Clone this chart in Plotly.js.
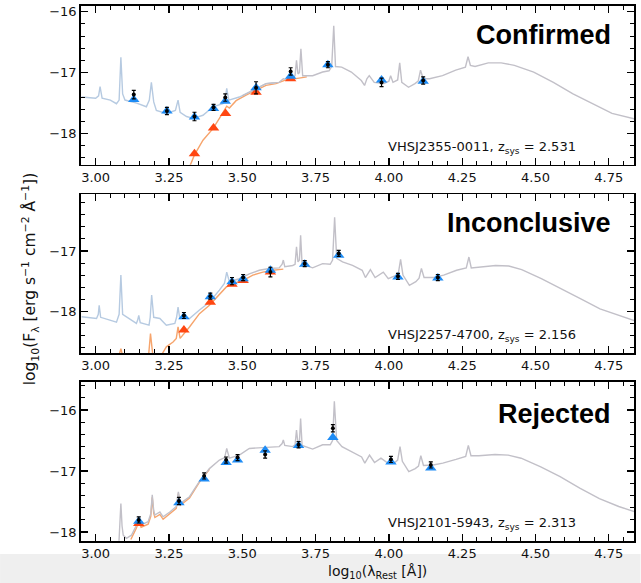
<!DOCTYPE html>
<html>
<head>
<meta charset="utf-8">
<script src="https://cdn.plot.ly/plotly-3.0.1.min.js"></script>
<style>html,body{margin:0;padding:0;background:#fff;}#chart{width:641px;height:583px;}</style>
</head>
<body>
<div id="chart"></div>
<script>
// ---------- Panel 1: Confirmed ----------
const p1_blue_x = [2.952, 3.000, 3.010, 3.015, 3.022, 3.050, 3.071, 3.080, 3.086, 3.092, 3.100, 3.140, 3.173, 3.183, 3.190, 3.198, 3.207, 3.241, 3.272, 3.281, 3.288, 3.310, 3.332, 3.366, 3.400, 3.434, 3.441, 3.447, 3.454, 3.490, 3.536, 3.581, 3.610];
const p1_blue_y = [-17.40, -17.42, -17.38, -17.23, -17.42, -17.45, -17.51, -17.45, -16.75, -17.35, -17.45, -17.50, -17.56, -17.45, -17.16, -17.48, -17.62, -17.67, -17.62, -17.45, -17.65, -17.72, -17.75, -17.70, -17.56, -17.51, -17.45, -17.26, -17.45, -17.40, -17.29, -17.18, -17.17];
const p1_gray_x = [3.500, 3.536, 3.560, 3.581, 3.600, 3.626, 3.640, 3.649, 3.672, 3.680, 3.685, 3.690, 3.695, 3.700, 3.706, 3.740, 3.774, 3.796, 3.805, 3.812, 3.818, 3.839, 3.872, 3.906, 3.917, 3.925, 3.933, 3.950, 3.983, 4.000, 4.006, 4.014, 4.030, 4.037, 4.044, 4.067, 4.089, 4.100, 4.108, 4.117, 4.139, 4.183, 4.228, 4.261, 4.270, 4.278, 4.294, 4.339, 4.383, 4.428, 4.494, 4.561, 4.628, 4.694, 4.761, 4.840];
const p1_gray_y = [-17.38, -17.29, -17.22, -17.18, -17.17, -17.16, -17.10, -17.11, -17.08, -17.05, -16.80, -17.02, -17.00, -16.61, -17.05, -17.05, -16.99, -16.97, -16.90, -16.23, -16.90, -16.91, -16.99, -17.13, -17.21, -17.10, -17.05, -17.16, -17.18, -17.14, -17.05, -17.16, -17.12, -16.84, -17.16, -17.24, -17.18, -17.14, -16.96, -17.10, -17.10, -17.05, -16.96, -16.91, -16.74, -16.88, -16.90, -16.84, -16.84, -16.88, -16.99, -17.16, -17.35, -17.51, -17.67, -17.76];
const p1_orange_x = [3.320, 3.337, 3.366, 3.400, 3.422, 3.440, 3.447, 3.456, 3.479, 3.513, 3.547, 3.581, 3.615, 3.649, 3.694, 3.720];
const p1_orange_y = [-18.55, -18.35, -18.11, -17.92, -17.75, -17.62, -17.55, -17.58, -17.46, -17.37, -17.29, -17.21, -17.18, -17.12, -17.09, -17.07];
const p1_phot_x = [3.130, 3.243, 3.337, 3.402, 3.442, 3.547, 3.665, 3.792, 3.975, 4.117];
const p1_bluepts = [-17.44, -17.63, -17.73, -17.59, -17.47, -17.25, -17.06, -16.87, -17.12, -17.14];
const p1_red_x = [3.337, 3.402, 3.443, 3.547, 3.665];
const p1_redpts = [-18.33, -17.91, -17.67, -17.32, -17.10];
const p1_obs = [-17.36, -17.63, -17.72, -17.57, -17.41, -17.25, -16.98, -16.87, -17.16, -17.13];
const p1_err = [0.07, 0.06, 0.07, 0.05, 0.06, 0.10, 0.06, 0.05, 0.07, 0.06];

// ---------- Panel 2: Inconclusive ----------
const p2_blue_x = [2.952, 3.003, 3.009, 3.012, 3.017, 3.071, 3.080, 3.086, 3.092, 3.139, 3.143, 3.147, 3.152, 3.182, 3.186, 3.191, 3.198, 3.219, 3.241, 3.270, 3.276, 3.281, 3.287, 3.320, 3.354, 3.388, 3.422, 3.439, 3.443, 3.447, 3.456, 3.470];
const p2_blue_y = [-18.09, -18.12, -18.05, -17.90, -18.10, -18.18, -18.05, -17.40, -18.05, -18.20, -18.15, -18.07, -18.19, -18.23, -18.10, -17.73, -18.10, -18.12, -18.23, -18.20, -18.10, -17.93, -18.12, -18.12, -17.98, -17.85, -17.65, -17.54, -17.45, -17.35, -17.51, -17.49];
const p2_gray_x = [3.456, 3.490, 3.524, 3.558, 3.592, 3.626, 3.636, 3.640, 3.645, 3.672, 3.680, 3.685, 3.690, 3.695, 3.699, 3.704, 3.740, 3.774, 3.800, 3.808, 3.815, 3.822, 3.842, 3.876, 3.909, 3.920, 3.937, 3.953, 3.981, 3.998, 4.022, 4.032, 4.040, 4.048, 4.070, 4.092, 4.103, 4.111, 4.120, 4.153, 4.187, 4.231, 4.264, 4.273, 4.281, 4.309, 4.364, 4.409, 4.453, 4.520, 4.587, 4.653, 4.720, 4.787, 4.840];
const p2_gray_y = [-17.51, -17.46, -17.38, -17.32, -17.29, -17.28, -17.22, -17.15, -17.26, -17.24, -17.22, -16.93, -17.18, -17.15, -16.74, -17.22, -17.28, -17.21, -17.22, -17.15, -16.44, -17.12, -17.18, -17.24, -17.32, -17.44, -17.31, -17.44, -17.35, -17.46, -17.41, -17.38, -17.14, -17.40, -17.57, -17.51, -17.45, -17.29, -17.44, -17.44, -17.40, -17.32, -17.28, -17.10, -17.28, -17.27, -17.24, -17.25, -17.31, -17.46, -17.62, -17.79, -17.96, -18.07, -18.16];
const p2_orange_x = [3.077, 3.086, 3.094, 3.179, 3.187, 3.196, 3.224, 3.241, 3.264, 3.275, 3.281, 3.288, 3.320, 3.354, 3.388, 3.422, 3.445, 3.468, 3.502, 3.536, 3.570, 3.604, 3.640];
const p2_orange_y = [-18.78, -18.62, -18.78, -18.82, -18.37, -18.78, -18.73, -18.59, -18.51, -18.45, -18.26, -18.45, -18.26, -18.04, -17.90, -17.71, -17.60, -17.54, -17.49, -17.40, -17.35, -17.32, -17.30];
const p2_phot_x = [3.301, 3.391, 3.465, 3.503, 3.596, 3.713, 3.829, 4.031, 4.167];
const p2_bluepts = [-18.09, -17.76, -17.51, -17.46, -17.32, -17.22, -17.07, -17.43, -17.45];
const p2_red_x = [3.301, 3.391, 3.465, 3.503, 3.596];
const p2_redpts = [-18.31, -17.85, -17.55, -17.49, -17.35];
const p2_obs = [-18.07, -17.75, -17.50, -17.44, -17.35, -17.21, -17.04, -17.42, -17.44];
const p2_err = [0.05, 0.05, 0.06, 0.05, 0.08, 0.05, 0.05, 0.05, 0.05];

// ---------- Panel 3: Rejected ----------
const p3_gray_x = [3.078, 3.082, 3.086, 3.090, 3.094, 3.105, 3.122, 3.139, 3.147, 3.155, 3.179, 3.188, 3.193, 3.198, 3.202, 3.219, 3.230, 3.253, 3.275, 3.282, 3.289, 3.320, 3.354, 3.388, 3.422, 3.440, 3.447, 3.456, 3.490, 3.524, 3.558, 3.592, 3.626, 3.636, 3.640, 3.645, 3.672, 3.680, 3.685, 3.690, 3.695, 3.699, 3.704, 3.740, 3.774, 3.800, 3.808, 3.814, 3.822, 3.840, 3.873, 3.907, 3.918, 3.934, 3.951, 3.973, 3.996, 4.020, 4.030, 4.038, 4.046, 4.068, 4.090, 4.101, 4.109, 4.118, 4.151, 4.184, 4.229, 4.262, 4.271, 4.280, 4.307, 4.362, 4.407, 4.451, 4.518, 4.584, 4.651, 4.718, 4.784, 4.840];
const p3_gray_y = [-18.30, -18.00, -17.53, -17.90, -18.05, -18.10, -18.05, -17.89, -17.78, -17.88, -17.83, -17.70, -17.39, -17.65, -17.72, -17.67, -17.75, -17.67, -17.58, -17.34, -17.53, -17.42, -17.17, -16.96, -16.82, -16.78, -16.63, -16.79, -16.74, -16.63, -16.62, -16.60, -16.60, -16.55, -16.49, -16.58, -16.60, -16.57, -16.33, -16.55, -16.52, -16.14, -16.58, -16.64, -16.57, -16.57, -16.50, -15.86, -16.50, -16.60, -16.68, -16.77, -16.87, -16.74, -16.86, -16.79, -16.87, -16.86, -16.82, -16.60, -16.84, -17.01, -16.96, -16.92, -16.75, -16.91, -16.90, -16.87, -16.81, -16.76, -16.58, -16.75, -16.75, -16.73, -16.74, -16.79, -16.93, -17.09, -17.28, -17.45, -17.58, -17.67];
const p3_orange_x = [3.120, 3.128, 3.139, 3.147, 3.155, 3.179, 3.188, 3.193, 3.198, 3.202, 3.219, 3.230, 3.253, 3.275, 3.282, 3.289, 3.320, 3.354, 3.388];
const p3_orange_y = [-18.12, -18.05, -17.93, -17.82, -17.92, -17.87, -17.74, -17.43, -17.69, -17.76, -17.71, -17.79, -17.70, -17.61, -17.37, -17.56, -17.44, -17.18, -16.97];
const p3_phot_x = [3.147, 3.284, 3.370, 3.445, 3.484, 3.578, 3.692, 3.809, 4.007, 4.143];
const p3_bluepts = [-17.82, -17.52, -17.13, -16.86, -16.82, -16.66, -16.58, -16.45, -16.85, -16.95];
const p3_red_x = [3.147];
const p3_redpts = [-17.86];
const p3_obs = [-17.80, -17.49, -17.08, -16.82, -16.78, -16.73, -16.57, -16.30, -16.81, -16.90];
const p3_err = [0.05, 0.06, 0.05, 0.05, 0.05, 0.06, 0.05, 0.06, 0.05, 0.05];

const classLabels = ['Confirmed', 'Inconclusive', 'Rejected'];
const objLabels = ['VHSJ2355-0011, z<sub>sys</sub> = 2.531', 'VHSJ2257-4700, z<sub>sys</sub> = 2.156', 'VHSJ2101-5943, z<sub>sys</sub> = 2.313'];
const xTickVals = [3.00, 3.25, 3.50, 3.75, 4.00, 4.25, 4.50, 4.75];

// ---------- styles ----------
const C_BLUELINE = '#b6cae1', C_GRAY = '#c2c0c8', C_ORANGE = '#f6a46c';
const C_TRI_BLUE = '#1e8cf5', C_TRI_RED = '#ff4611';

const panels = [
  {bx: p1_blue_x, by: p1_blue_y, gx: p1_gray_x, gy: p1_gray_y, ox: p1_orange_x, oy: p1_orange_y,
   px: p1_phot_x, pb: p1_bluepts, rx: p1_red_x, rp: p1_redpts, obs: p1_obs, err: p1_err},
  {bx: p2_blue_x, by: p2_blue_y, gx: p2_gray_x, gy: p2_gray_y, ox: p2_orange_x, oy: p2_orange_y,
   px: p2_phot_x, pb: p2_bluepts, rx: p2_red_x, rp: p2_redpts, obs: p2_obs, err: p2_err},
  {bx: [], by: [], gx: p3_gray_x, gy: p3_gray_y, ox: p3_orange_x, oy: p3_orange_y,
   px: p3_phot_x, pb: p3_bluepts, rx: p3_red_x, rp: p3_redpts, obs: p3_obs, err: p3_err}
];

const traces = [];
panels.forEach((p, i) => {
  const xa = i === 0 ? 'x' : 'x' + (i + 1);
  const ya = i === 0 ? 'y' : 'y' + (i + 1);
  const base = {xaxis: xa, yaxis: ya, showlegend: false, hoverinfo: 'skip'};
  traces.push(Object.assign({x: p.ox, y: p.oy, mode: 'lines', line: {color: C_ORANGE, width: 1.4}}, base));
  if (p.bx.length) traces.push(Object.assign({x: p.bx, y: p.by, mode: 'lines', line: {color: C_BLUELINE, width: 1.4}}, base));
  traces.push(Object.assign({x: p.gx, y: p.gy, mode: 'lines', line: {color: C_GRAY, width: 1.4}}, base));
  traces.push(Object.assign({x: p.rx, y: p.rp, mode: 'markers', marker: {symbol: 'triangle-up', size: 10, color: C_TRI_RED}}, base));
  traces.push(Object.assign({x: p.px, y: p.pb, mode: 'markers', marker: {symbol: 'triangle-up', size: 10, color: C_TRI_BLUE}}, base));
  traces.push(Object.assign({x: p.px, y: p.obs, mode: 'markers', marker: {size: 4, color: '#000'},
    error_y: {type: 'data', array: p.err, visible: true, color: '#000', thickness: 1.2, width: 2}}, base));
});

// pixel geometry
const W = 641, H = 583;
const L = 81, R = 6.5, T = 5.5, B = 42;
const PW = W - L - R, PH = H - T - B;
const fx = px => (px - L) / PW;
const fy = py => (H - B - py) / PH;

const domains = [[fy(164.3), fy(5.7)], [fy(352.7), fy(194)], [fy(540.7), fy(381.7)]];
const yRanges = [[-18.51, -15.91], [-18.69, -16.06], [-18.14, -15.54]];

const tickFont = {family: 'DejaVu Sans', size: 13, color: '#111'};
function xAxis(anchor) {
  return {anchor: anchor, range: [2.95, 4.836], tickvals: xTickVals, tickformat: '.2f',
    ticks: 'inside', ticklen: 7, tickwidth: 1.3, tickcolor: '#000', showline: true, linewidth: 1.8,
    linecolor: '#000', mirror: 'allticks', showgrid: false, zeroline: false, tickfont: tickFont,
    minor: {dtick: 0.05, tick0: 3.0, ticks: 'inside', ticklen: 4, tickwidth: 1, tickcolor: '#000', showgrid: false}};
}
function yAxis(anchor, dom, rng) {
  return {anchor: anchor, domain: dom, range: rng, dtick: 1, tick0: -18, tickformat: 'd',
    ticks: 'inside', ticklen: 7, tickwidth: 1.3, tickcolor: '#000', showline: true, linewidth: 1.8,
    linecolor: '#000', mirror: 'allticks', showgrid: false, zeroline: false, tickfont: tickFont,
    minor: {dtick: 0.2, tick0: -18, ticks: 'inside', ticklen: 4, tickwidth: 1, tickcolor: '#000', showgrid: false}};
}

const annotations = [];
const classY = [35, 223, 414];
const objY = [147, 335, 523];
classLabels.forEach((t, i) => {
  annotations.push({xref: 'paper', yref: 'paper', x: fx(613), y: fy(classY[i]), xanchor: 'right', yanchor: 'middle',
    text: '<b>' + t + '</b>', showarrow: false, font: {family: 'Liberation Sans, Arial', size: 27, color: '#000'}});
  annotations.push({xref: 'paper', yref: 'paper', x: fx(578), y: fy(objY[i]), xanchor: 'right', yanchor: 'middle',
    text: objLabels[i], showarrow: false, font: {family: 'DejaVu Sans', size: 13, color: '#111'}});
});
annotations.push({xref: 'paper', yref: 'paper', x: fx(30), y: fy(279), xanchor: 'center', yanchor: 'middle', textangle: -90,
  text: 'log<sub>10</sub>(F<sub>λ</sub> [erg s<sup>−1</sup> cm<sup>−2</sup> Å<sup>−1</sup>])', showarrow: false,
  font: {family: 'DejaVu Sans', size: 15.5, color: '#111'}});
annotations.push({xref: 'paper', yref: 'paper', x: fx(378), y: fy(572), xanchor: 'center', yanchor: 'middle',
  text: 'log<sub>10</sub>(λ<sub>Rest</sub> [Å])', showarrow: false,
  font: {family: 'DejaVu Sans', size: 14, color: '#111'}});

const layout = {
  width: W, height: H, margin: {l: L, r: R, t: T, b: B, pad: 0},
  paper_bgcolor: '#fff', plot_bgcolor: '#fff', showlegend: false,
  xaxis: xAxis('y'), xaxis2: xAxis('y2'), xaxis3: xAxis('y3'),
  yaxis: yAxis('x', domains[0], yRanges[0]),
  yaxis2: yAxis('x2', domains[1], yRanges[1]),
  yaxis3: yAxis('x3', domains[2], yRanges[2]),
  annotations: annotations,
  shapes: [{type: 'rect', xref: 'paper', yref: 'paper', x0: fx(0), x1: fx(W), y0: fy(H), y1: fy(554),
    fillcolor: '#efefef', line: {width: 0}, layer: 'below'}]
};

Plotly.newPlot('chart', traces, layout, {displayModeBar: false, staticPlot: true});
</script>
</body>
</html>
